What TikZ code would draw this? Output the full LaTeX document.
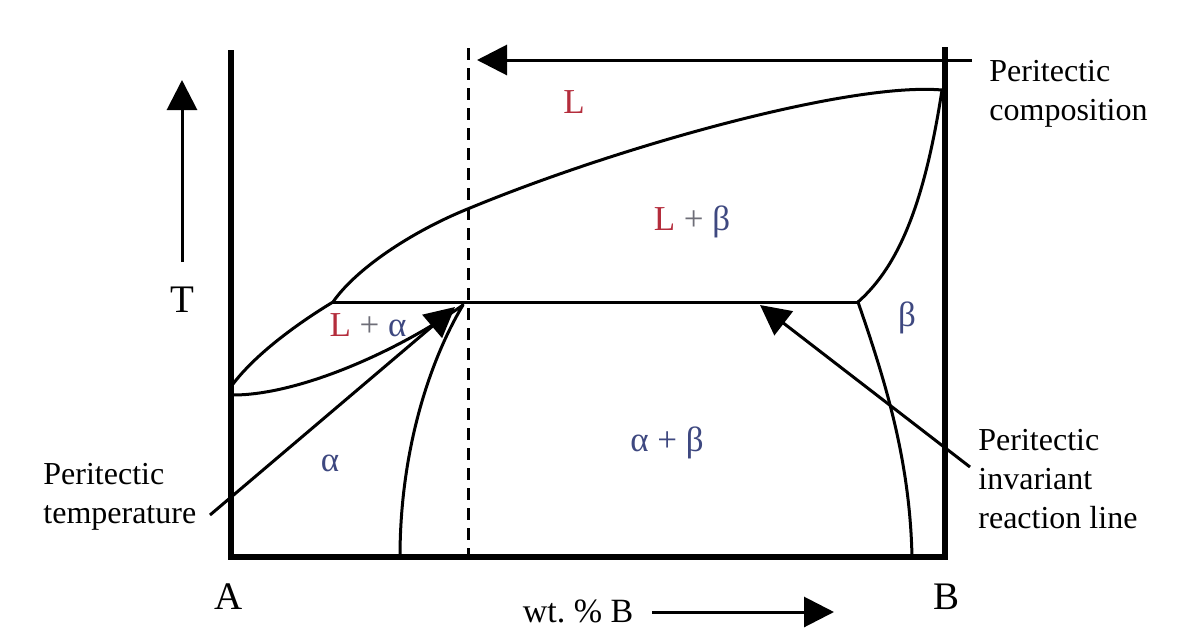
\documentclass[tikz,border=0pt]{standalone}
\usepackage{fontspec}
\setmainfont{Liberation Serif}
\usetikzlibrary{arrows.meta}
\definecolor{phred}{RGB}{180,45,60}
\definecolor{phblue}{RGB}{62,72,128}
\definecolor{phgrey}{RGB}{110,110,120}
\begin{document}
\begin{tikzpicture}[x=0.5pt,y=-0.5pt,
  axisline/.style={line width=3pt,line join=miter,line cap=butt},
  curve/.style={line width=1.5pt,line cap=round,line join=round},
  pointer/.style={line width=1.5pt,-{Triangle[length=15pt,width=15pt]}},
  note/.style={font=\fontsize{16}{19.5}\selectfont,align=left,inner sep=0pt},
  phase/.style={font=\fontsize{17.5}{20}\selectfont,inner sep=0pt},
  letter/.style={font=\fontsize{19.5}{22}\selectfont,inner sep=0pt}]
\useasboundingbox (0,0) rectangle (1196,628);
% key points
\coordinate (Aax) at (231,50);
\coordinate (Acorner) at (231,557);
\coordinate (Bcorner) at (945,557);
\coordinate (Bax) at (945,47);
\coordinate (Amelt) at (233,384);
\coordinate (Asol) at (233,395);
\coordinate (Pleft) at (333,302);
\coordinate (Pmid) at (470,208);
\coordinate (Palpha) at (463,305);
\coordinate (Pbeta) at (858,302);
\coordinate (Ptop) at (942,90);
\coordinate (Afoot) at (400,557);
\coordinate (Bfoot) at (912,557);
% axes
\draw[axisline] (Aax) -- (Acorner) -- (Bcorner) -- (Bax);
% dashed composition line
\coordinate (Dtop) at (468,48);
\coordinate (Dbot) at (468,557);
\draw[line width=1.5pt,dash pattern=on 6pt off 4pt] (Dtop) -- (Dbot);
% top arrow
\coordinate (Tarrs) at (972,60);
\coordinate (Tarre) at (477,60);
\draw[pointer] (Tarrs) -- (Tarre);
% liquidus
\draw[curve] (Amelt) .. controls (255,355) and (295,325) .. (Pleft)
  .. controls (355,270) and (410,232) .. (Pmid)
  .. controls (620,146) and (850,82) .. (Ptop);
% solidus alpha
\draw[curve] (Asol) .. controls (300,395) and (400,350) .. (Palpha);
% solvus alpha
\draw[curve] (Palpha) .. controls (430,360) and (400,450) .. (Afoot);
% beta solidus
\draw[curve] (Ptop) .. controls (925,200) and (900,265) .. (Pbeta);
% beta solvus
\draw[curve] (Pbeta) .. controls (885,380) and (910,460) .. (Bfoot);
% peritectic line
\draw[curve] (Pleft) -- (Pbeta);
% T arrow
\coordinate (TAb) at (182,262);
\coordinate (TAt) at (182,80);
\draw[pointer] (TAb) -- (TAt);
% wt arrow
\coordinate (WAs) at (652,612);
\coordinate (WAe) at (834,612);
\draw[pointer] (WAs) -- (WAe);
% callouts
\coordinate (PTs) at (210,515);
\coordinate (PTe) at (455,307);
\draw[pointer] (PTs) -- (PTe);
\coordinate (PRs) at (970,467);
\coordinate (PRe) at (760,305);
\draw[pointer] (PRs) -- (PRe);
% texts
\node[note,anchor=west] (comp) at (989,94) {Peritectic\\composition};
\node[note,anchor=west] (react) at (978,479) {Peritectic\\invariant\\reaction line};
\node[note,anchor=west] (ptemp) at (43,497) {Peritectic\\temperature};
\node[phase,text=phred] (Lab) at (574,102) {L};
\node[phase] (LB) at (692,222) {\textcolor{phred}{L} \textcolor{phgrey}{+} \textcolor{phblue}{β}};
\node[phase] (LA) at (368,325) {\textcolor{phred}{L} \textcolor{phgrey}{+} \textcolor{phblue}{α}};
\node[phase,text=phblue] (Bet) at (907,318) {β};
\node[phase,text=phblue] (Alp) at (330,463) {α};
\node[phase,text=phblue] (AB) at (667,443) {α + β};
\node[letter] (Tl) at (182,300) {T};
\node[letter] (Al) at (229,597) {A};
\node[letter] (Bl) at (947,597) {B};
\node[note,font=\fontsize{17}{20}\selectfont] (wt) at (578,611) {wt.~\% B};
\end{tikzpicture}
\end{document}
